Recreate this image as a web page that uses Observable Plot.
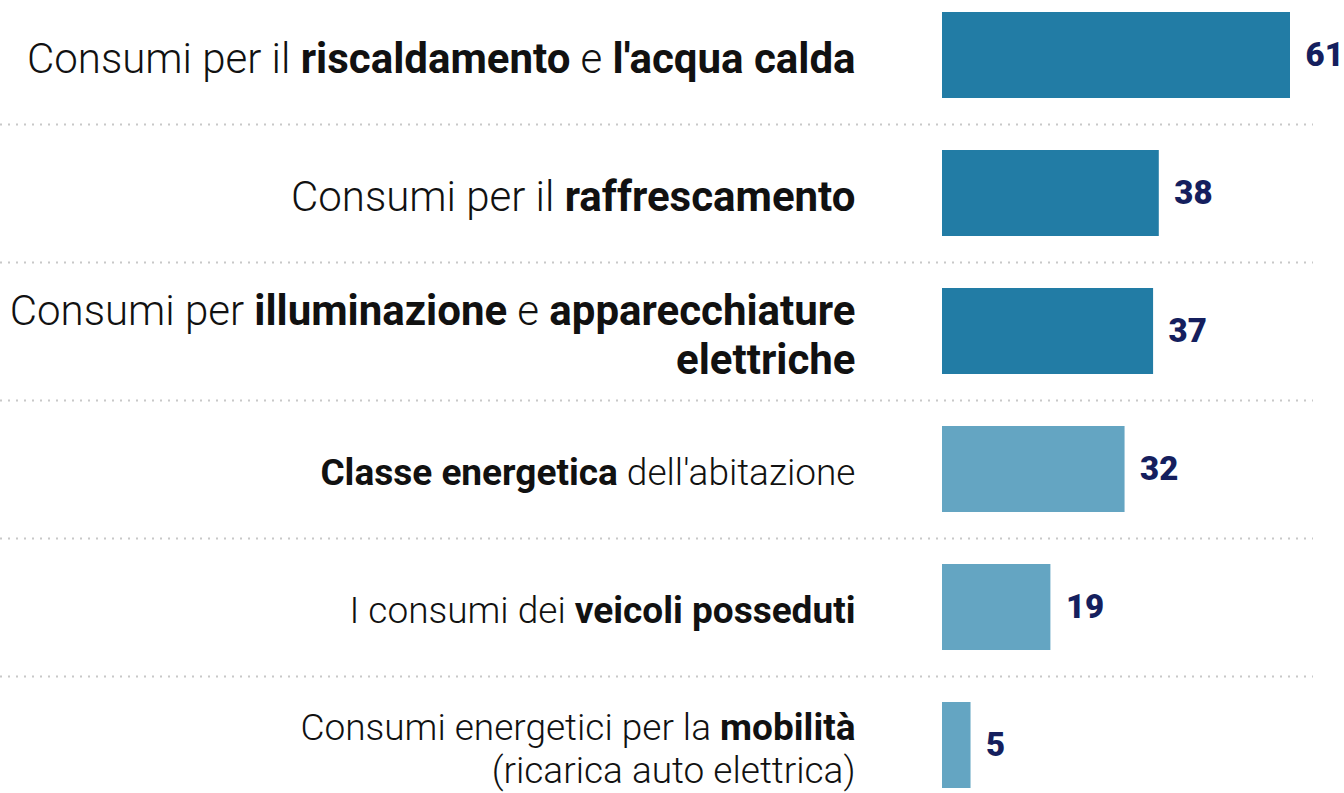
<!DOCTYPE html>
<html><head><meta charset="utf-8">
<script src="https://cdn.jsdelivr.net/npm/d3@7"></script>
<script src="https://cdn.jsdelivr.net/npm/@observablehq/plot@0.6"></script>
<style>html,body{margin:0;padding:0;background:#fff;overflow:hidden}</style>
</head><body><div id="chart"></div>
<script>
const categories = [
  "Consumi per il **riscaldamento** e **l'acqua calda**",
  "Consumi per il **raffrescamento**",
  "Consumi per **illuminazione** e **apparecchiature**\n**elettriche**",
  "**Classe energetica** dell'abitazione",
  "I consumi dei **veicoli posseduti**",
  "Consumi energetici per la **mobilità**\n(ricarica auto elettrica)"
];
const values = [61, 38, 37, 32, 19, 5];
const groups = ["A", "A", "A", "B", "B", "B"];
const groupColors = ["#227ca5", "#64a5c2"];

const data = categories.map((c, i) => ({label: c, value: values[i], group: groups[i]}));

const chart = Plot.plot({
  width: 1344, height: 793,
  marginLeft: 942, marginRight: 54, marginTop: 11, marginBottom: 4,
  x: {domain: [0, 61], axis: null},
  y: {domain: categories, axis: null, paddingInner: 0.38, paddingOuter: 0},
  color: {domain: ["A", "B"], range: groupColors},
  style: {fontFamily: "Roboto, 'Noto Sans', sans-serif", background: "#fff"},
  marks: [
    Plot.ruleY(categories.slice(1), {y: d => d, dy: -69, stroke: "#c8c8c8", strokeWidth: 2, strokeDasharray: "2 6", insetLeft: -942, insetRight: -23}),
    Plot.barX(data, {x: "value", y: "label", fill: "group"}),
    Plot.text(data, {x: 0, y: "label", text: "label", textAnchor: "end", dx: -87, dy: 2,
      fontSize: d => d.group === "A" ? 42 : 37, fontWeight: 300, lineHeight: 1.18, fill: "#111"}),
    Plot.text(data, {x: "value", y: "label", text: d => String(d.value), textAnchor: "start", dx: 15, dy: 0, fontSize: 33, fontWeight: 900, fill: "#151f5e"})
  ]
});

chart.querySelectorAll("text, tspan").forEach(el => {
  if (el.children.length === 0 && el.textContent.includes("**")) {
    el.innerHTML = el.textContent.replace(/\*\*(.+?)\*\*/g, '<tspan font-weight="700">$1</tspan>');
  }
});
document.getElementById("chart").appendChild(chart);
</script>
</body></html>
